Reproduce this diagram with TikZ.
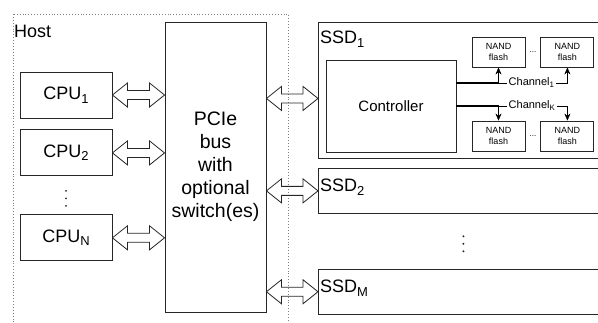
\documentclass[tikz,border=0pt]{standalone}
\usepackage{fontspec}
\setmainfont{Liberation Sans}
\usetikzlibrary{arrows.meta, positioning, calc}

% index set a little lower and smaller than the text
\newcommand{\lowsub}[1]{\raisebox{-0.2em}{\scalebox{0.72}{#1}}}

\begin{document}
\begin{tikzpicture}[x=1pt, y=-1pt, >={Stealth[length=7pt,width=6pt]},
    block/.style={draw=black!85, line width=0.9pt, rectangle, inner sep=0pt},
    cpu/.style={block, minimum width=92pt, minimum height=46pt, font=\fontsize{18}{21}\selectfont},
    ssd/.style={block, minimum width=290pt, anchor=north west},
    nand/.style={block, minimum width=53pt, minimum height=30pt, align=center, font=\fontsize{9}{10.5}\selectfont},
    tag/.style={anchor=north west, inner sep=0pt, font=\fontsize{18}{21}\selectfont},
    chan/.style={anchor=mid west, inner sep=2pt, font=\fontsize{11}{13}\selectfont},
    fatarrow/.style={draw=black!85, line width=0.8pt, to path={
        let \p1=(\tikztostart), \p2=(\tikztotarget) in
        (\x1,\y1) -- (\x1+15pt,\y1+12pt) -- (\x1+15pt,\y1+4.5pt)
        -- (\x2-15pt,\y1+4.5pt) -- (\x2-15pt,\y1+12pt) -- (\x2,\y1)
        -- (\x2-15pt,\y1-12pt) -- (\x2-15pt,\y1-4.5pt)
        -- (\x1+15pt,\y1-4.5pt) -- (\x1+15pt,\y1-12pt) -- cycle}},
    node distance=11pt
]
    \useasboundingbox (0,0) rectangle (598,322);

    % Host frame
    \draw[gray, dotted, line width=0.9pt] (13,14) rectangle (288,330);
    \node[tag] (hosttag) at (14,25) {Host};

    % CPUs and bus
    \node[cpu] (cpu1) at (66,95) {CPU\lowsub{1}};
    \node[cpu, below=11pt of cpu1] (cpu2) {CPU\lowsub{2}};
    \node[cpu, below=38pt of cpu2] (cpun) {CPU\lowsub{N}};
    \coordinate (cpudots) at ($(cpu2.south)!0.5!(cpun.north)+(0,3)$);
    \node[block, minimum width=101pt, minimum height=290pt, align=center,
          font=\fontsize{19.5}{23}\selectfont] (pcie) at (215.5,167)
          {PCIe\\bus\\with\\optional\\switch(es)};

    % SSDs
    \node[ssd, minimum height=136pt] (ssd1) at (318,22) {};
    \node[ssd, minimum height=45pt, below=9pt of ssd1] (ssd2) {};
    \node[ssd, minimum height=45pt, below=55pt of ssd2] (ssdm) {};
    \node[tag] (ssd1tag) at ([xshift=2pt,yshift=-9pt]ssd1.north west) {SSD\lowsub{1}};
    \node[tag] (ssd2tag) at ([xshift=2pt,yshift=-11pt]ssd2.north west) {SSD\lowsub{2}};
    \node[tag] (ssdmtag) at ([xshift=2pt,yshift=-11pt]ssdm.north west) {SSD\lowsub{M}};
    \coordinate (ssddots) at ($(ssd2.south)!0.5!(ssdm.north)+(0,2.5)$);

    % Inside SSD 1
    \node[block, minimum width=130pt, minimum height=92pt,
          font=\fontsize{15}{18}\selectfont] (ctrl) at (391,106) {Controller};
    \node[nand] (nand11) at (498.5,52) {NAND\\flash};
    \node[nand, right=15pt of nand11] (nand12) {NAND\\flash};
    \node[nand] (nand21) at (498.5,136) {NAND\\flash};
    \node[nand, right=15pt of nand21] (nand22) {NAND\\flash};
    \node[inner sep=0pt, font=\fontsize{8}{9}\selectfont] (dots1)
        at ($(nand11.east)!0.5!(nand12.west)$) {...};
    \node[inner sep=0pt, font=\fontsize{8}{9}\selectfont] (dots2)
        at ($(nand21.east)!0.5!(nand22.west)$) {...};

    % Channels
    \coordinate (c1) at ([yshift=23pt]ctrl.east);
    \coordinate (ck) at (ctrl.east);
    \coordinate (br1) at (nand11.south |- c1);
    \coordinate (brk) at (nand21.north |- ck);
    \draw[line width=2pt] (c1) -- (br1);
    \draw[->] (br1) -- (nand11);
    \node[chan] (ch1) at ([xshift=8pt]br1) {Channel\lowsub{1}};
    \draw (br1) -- (br1 -| ch1.west);
    \draw[->] (br1 -| ch1.east) -- (br1 -| nand12.south) -- (nand12.south);

    \draw[line width=2pt] (ck) -- (brk);
    \draw[->] (brk) -- (nand21);
    \node[chan] (chk) at ([xshift=8pt]brk) {Channel\lowsub{K}};
    \draw (brk) -- (brk -| chk.west);
    \draw[->] (brk -| chk.east) -- (brk -| nand22.north) -- (nand22.north);

    % Links to the bus
    \draw[fatarrow] (cpu1.east) to (cpu1.east -| pcie.west);
    \draw[fatarrow] (cpu2.east) to (cpu2.east -| pcie.west);
    \draw[fatarrow] (cpun.east) to (cpun.east -| pcie.west);
    \coordinate (s1) at ([yshift=-8pt]ssd1.west);
    \draw[fatarrow] (pcie.east |- s1) to (s1);
    \draw[fatarrow] (pcie.east |- ssd2.west) to (ssd2.west);
    \draw[fatarrow] (pcie.east |- ssdm.west) to (ssdm.west);

    % Dots
    \foreach \d in {-7.5,0,7.5} {
        \fill[black!85] ($(cpudots)+(0,\d)$) circle (1.1pt);
        \fill[black!85] ($(ssddots)+(0,\d)$) circle (1.1pt);
    }
\end{tikzpicture}
\end{document}
